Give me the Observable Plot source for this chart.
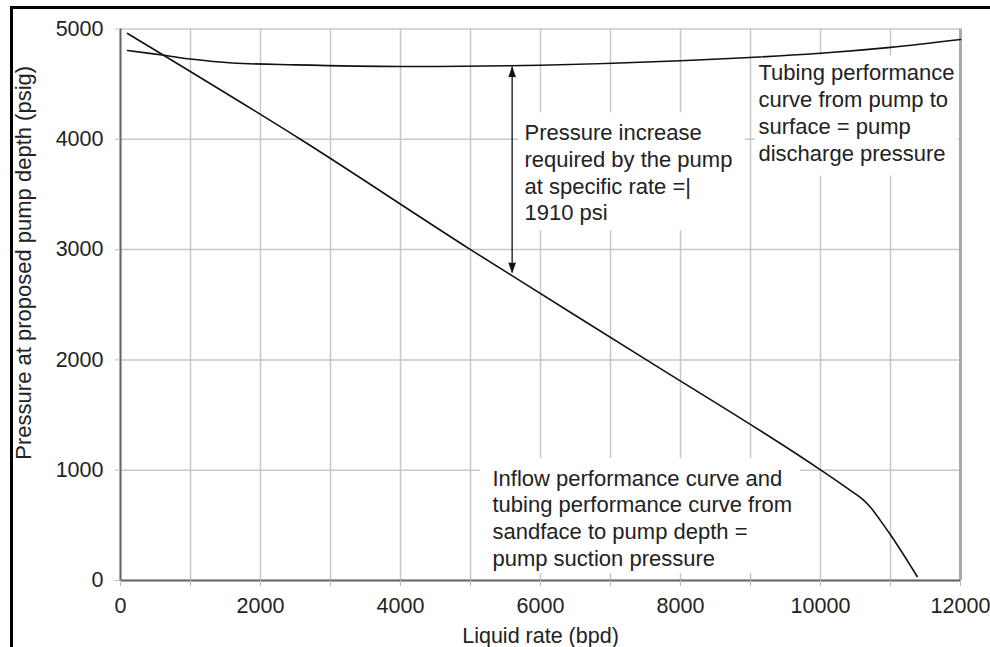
<!DOCTYPE html>
<html><head><meta charset="utf-8">
<script src="https://cdn.jsdelivr.net/npm/d3@7"></script>
<script src="https://cdn.jsdelivr.net/npm/@observablehq/plot@0.6"></script>
<style>
html,body{margin:0;padding:0;background:#fff;width:990px;height:647px;overflow:hidden;}
#frame{position:absolute;left:10px;top:6px;width:990px;height:650px;border-top:3px solid #000;border-left:3px solid #000;box-sizing:border-box;pointer-events:none;}
#chart{position:absolute;left:0;top:0;}
</style></head><body>
<div id="chart"></div>
<div id="frame"></div>
<script>
// Inflow performance curve (pump suction pressure)
const inflowRate     = [100, 2570, 5000, 7514, 10000, 10430, 10595, 10714, 10857, 11024, 11381];
const inflowPressure = [4960, 4000, 3000, 2000, 1003, 815, 740, 664, 543, 392, 36];
// Tubing performance curve (pump discharge pressure)
const tubingRate     = [100, 600, 1000, 1600, 2500, 4000, 6000, 8000, 10000, 11000, 12000];
const tubingPressure = [4805, 4764, 4728, 4692, 4675, 4660, 4672, 4712, 4780, 4833, 4905];
// Axis ticks
const xTicks = [0, 1000, 2000, 3000, 4000, 5000, 6000, 7000, 8000, 9000, 10000, 11000, 12000];
const xTickLabels = ["0", "", "2000", "", "4000", "", "6000", "", "8000", "", "10000", "", "12000"];
const yTicks = [0, 1000, 2000, 3000, 4000, 5000];
const yTickLabels = ["0", "1000", "2000", "3000", "4000", "5000"];
const xLabel = "Liquid rate (bpd)";
const yLabel = "Pressure at proposed pump depth (psig)";
// Pressure increase arrow
const arrowRate = 5595;
const arrowTop = 4655;
const arrowBottom = 2790;
// Annotations (anchor and white box in data units)
const noteTexts = [
  "Pressure increase\nrequired by the pump\nat specific rate =|\n1910 psi",
  "Tubing performance\ncurve from pump to\nsurface = pump\ndischarge pressure",
  "Inflow performance curve and\ntubing performance curve from\nsandface to pump depth =\npump suction pressure"
];
const noteX  = [5771, 9114, 5314];
const noteY  = [4167, 4710, 1033];
const boxX1  = [5690, 9071, 5143];
const boxX2  = [8930, 11971, 9714];
const boxY1  = [3170, 3668, 63];
const boxY2  = [4240, 4755, 1105];

const inflow = inflowRate.map((x, i) => ({x, y: inflowPressure[i]}));
const tubing = tubingRate.map((x, i) => ({x, y: tubingPressure[i]}));
const notes = noteTexts.map((text, i) => ({text, x: noteX[i], y: noteY[i], x1: boxX1[i], x2: boxX2[i], y1: boxY1[i], y2: boxY2[i]}));
const heads = [{x: arrowRate, y: arrowTop, r: 0}, {x: arrowRate, y: arrowBottom, r: 180}];

const chart = Plot.plot({
  width: 990, height: 647,
  marginLeft: 120, marginRight: 30, marginTop: 28.5, marginBottom: 67,
  x: {domain: [0, 12000]},
  y: {domain: [0, 5000]},
  style: {fontFamily: '"Liberation Sans", Arial, sans-serif', fontSize: "21px", color: "#222", background: "white"},
  marks: [
    Plot.gridX(xTicks, {stroke: "#c8c8c8", strokeOpacity: 1, strokeWidth: 1.5}),
    Plot.gridY(yTicks, {stroke: "#c8c8c8", strokeOpacity: 1, strokeWidth: 1.5}),
    Plot.rect(notes, {x1: "x1", x2: "x2", y1: "y1", y2: "y2", fill: "white"}),
    Plot.ruleX([12000], {stroke: "#aaa", strokeWidth: 3}),
    Plot.ruleX([0], {stroke: "#666", strokeWidth: 2}),
    Plot.ruleY([0], {stroke: "#666", strokeWidth: 2}),
    Plot.line(tubing, {x: "x", y: "y", curve: "catmull-rom", stroke: "#111", strokeWidth: 1.6}),
    Plot.line(inflow, {x: "x", y: "y", curve: "monotone-x", stroke: "#111", strokeWidth: 1.6}),
    Plot.ruleX([arrowRate], {y1: arrowBottom, y2: arrowTop, stroke: "#111", strokeWidth: 1.3}),
    Plot.vector(heads, {x: "x", y: "y", rotate: "r", length: 10, r: 3.5, shape: "spike", anchor: "end", fill: "#111", stroke: "#111", strokeWidth: 0.5}),
    Plot.text(notes, {x: "x", y: "y", text: "text", textAnchor: "start", lineAnchor: "top", lineHeight: 1.22, fontSize: 22, fill: "#222"}),
    Plot.axisX({ticks: xTicks, tickFormat: d => xTickLabels[xTicks.indexOf(d)], tickSize: 6, tickPadding: 11, stroke: "#bbb", fill: "#222", label: xLabel, labelAnchor: "center", labelOffset: 62, labelArrow: "none", fontSize: 21.5}),
    Plot.axisY({ticks: yTicks, tickFormat: d => yTickLabels[yTicks.indexOf(d)], tickSize: 5, tickPadding: 12, stroke: "#bbb", fill: "#222", label: null, fontSize: 21.5}),
    Plot.text([yLabel], {frameAnchor: "left", textAnchor: "middle", lineAnchor: "middle", rotate: -90, dx: -97, dy: -42, fontSize: 22, fill: "#222"})
  ]
});
document.getElementById("chart").appendChild(chart);
</script>
</body></html>
